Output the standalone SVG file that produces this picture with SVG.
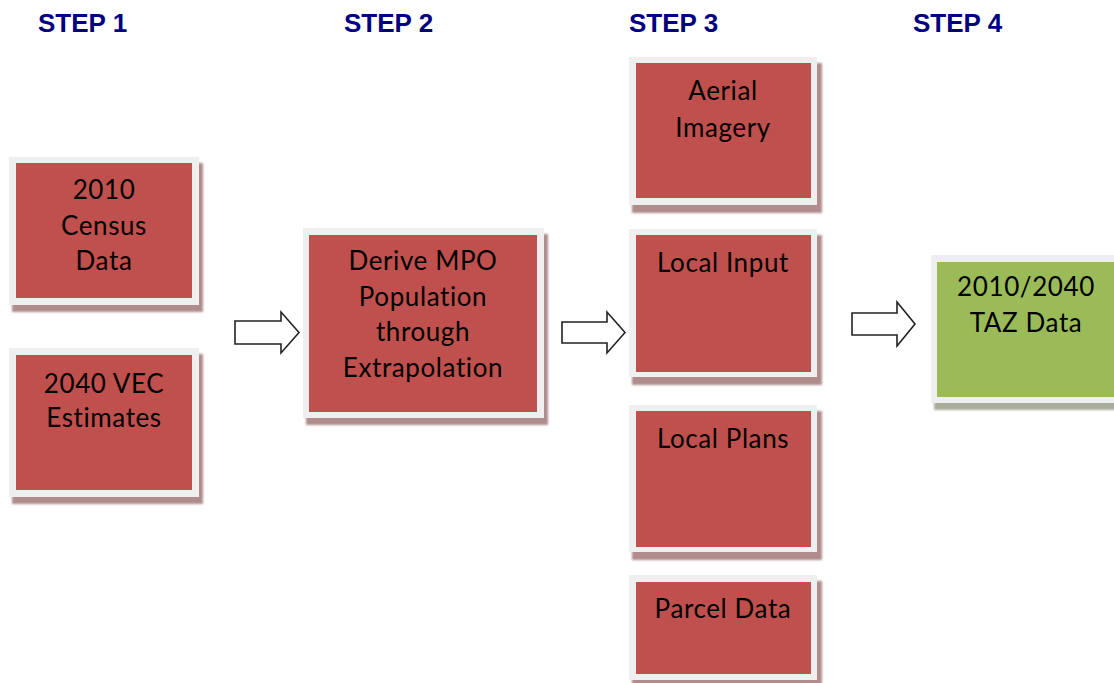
<svg xmlns="http://www.w3.org/2000/svg" width="1114" height="683" viewBox="0 0 1114 683">
  <style>
    .step { font-family: "Liberation Sans", Arial, sans-serif; font-weight: bold; font-size: 26px; fill: #000080; }
    .label { font-family: Lato, "Noto Sans", sans-serif; font-size: 26px; letter-spacing: 0.6px; fill: #000; text-anchor: middle; }
    .frame { fill: #efefef; }
    .red { fill: #c0504d; }
    .green { fill: #9bbb59; }
    .shadow { fill: #b08c8c; filter: url(#soft); }
    .shadow-g { fill: #a9ad9c; filter: url(#soft); }
    .arrow { fill: #ffffff; stroke: #222; stroke-width: 1.6; stroke-linejoin: miter; }
  </style>
  <defs>
    <filter id="soft" x="-10%" y="-10%" width="120%" height="120%">
      <feGaussianBlur stdDeviation="1"/>
    </filter>
  </defs>

  <rect width="1114" height="683" fill="#ffffff"/>

  <!-- step headings -->
  <g id="headings">
    <text class="step" x="38" y="32">STEP 1</text>
    <text class="step" x="344" y="32">STEP 2</text>
    <text class="step" x="629" y="32">STEP 3</text>
    <text class="step" x="913" y="32">STEP 4</text>
  </g>

  <!-- Step 1 -->
  <g id="census2010">
    <rect class="shadow" x="12" y="163" width="191" height="149"/>
    <rect class="frame" x="9" y="157" width="190" height="148"/>
    <rect class="red" x="16" y="163" width="176" height="135"/>
    <text class="label" x="104" y="199">2010</text>
    <text class="label" x="104" y="235">Census</text>
    <text class="label" x="104" y="270">Data</text>
  </g>

  <g id="vec2040">
    <rect class="shadow" x="12" y="354" width="191" height="150"/>
    <rect class="frame" x="9" y="348" width="190" height="149"/>
    <rect class="red" x="16" y="355" width="176" height="135"/>
    <text class="label" x="104" y="393">2040 VEC</text>
    <text class="label" x="104" y="427">Estimates</text>
  </g>

  <!-- Step 2 -->
  <g id="derive">
    <rect class="shadow" x="306" y="234" width="242" height="191"/>
    <rect class="frame" x="303" y="228" width="241" height="190"/>
    <rect class="red" x="309" y="235" width="228" height="177"/>
    <text class="label" x="423" y="270">Derive MPO</text>
    <text class="label" x="423" y="306">Population</text>
    <text class="label" x="423" y="341">through</text>
    <text class="label" x="423" y="377">Extrapolation</text>
  </g>

  <!-- Step 3 -->
  <g id="aerial">
    <rect class="shadow" x="632" y="63" width="190" height="150"/>
    <rect class="frame" x="629" y="57" width="188" height="148"/>
    <rect class="red" x="636" y="63" width="175" height="135"/>
    <text class="label" x="723" y="100">Aerial</text>
    <text class="label" x="723" y="137">Imagery</text>
  </g>

  <g id="localInput">
    <rect class="shadow" x="632" y="235" width="190" height="150"/>
    <rect class="frame" x="629" y="229" width="188" height="148"/>
    <rect class="red" x="636" y="235" width="175" height="137"/>
    <text class="label" x="723" y="272">Local Input</text>
  </g>

  <g id="localPlans">
    <rect class="shadow" x="632" y="411" width="190" height="149"/>
    <rect class="frame" x="629" y="405" width="188" height="147"/>
    <rect class="red" x="636" y="411" width="175" height="136"/>
    <text class="label" x="723" y="448">Local Plans</text>
  </g>

  <g id="parcelData">
    <rect class="shadow" x="632" y="581" width="190" height="107"/>
    <rect class="frame" x="629" y="575" width="188" height="105"/>
    <rect class="red" x="636" y="582" width="175" height="92"/>
    <text class="label" x="723" y="618">Parcel Data</text>
  </g>

  <!-- Step 4 -->
  <g id="tazData">
    <rect class="shadow-g" x="934" y="261" width="190" height="149"/>
    <rect class="frame" x="931" y="255" width="190" height="148"/>
    <rect class="green" x="937" y="262" width="184" height="135"/>
    <text class="label" x="1026" y="296">2010/2040</text>
    <text class="label" x="1026" y="332">TAZ Data</text>
  </g>

  <!-- block arrows between steps -->
  <g id="connectors">
    <polygon class="arrow" points="235,321 281,321 281,312 299,332.5 281,353 281,344 235,344"/>
    <polygon class="arrow" points="562,322 607,322 607,312 625,332.5 607,353 607,343 562,343"/>
    <polygon class="arrow" points="852,313 897,313 897,302 915,324 897,346 897,335 852,335"/>
  </g>
</svg>
